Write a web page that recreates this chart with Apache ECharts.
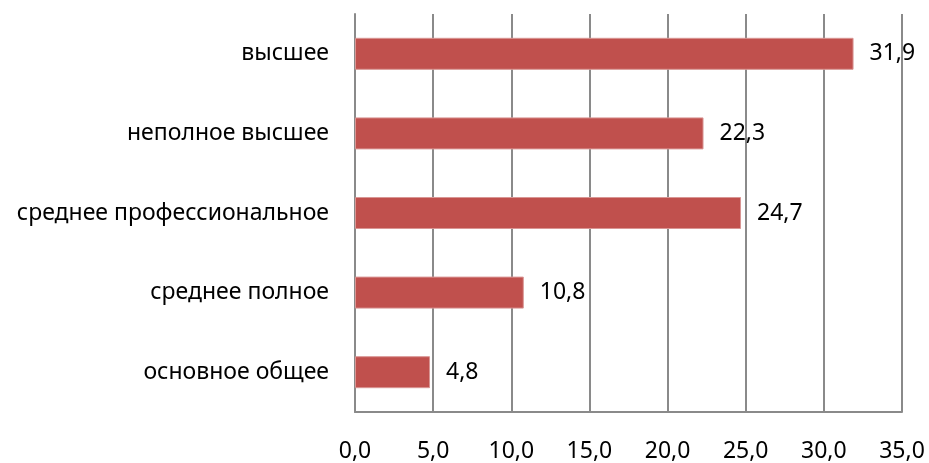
<!DOCTYPE html>
<html>
<head>
<meta charset="utf-8">
<script src="https://cdn.jsdelivr.net/npm/echarts@6/dist/echarts.min.js"></script>
<style>
html, body { margin: 0; padding: 0; background: #fff; }
#chart { width: 929px; height: 463px; }
</style>
</head>
<body>
<div id="chart"></div>
<script>
// категории снизу вверх (ось y идёт от низа)
const categories = ['основное общее', 'среднее полное', 'среднее профессиональное', 'неполное высшее', 'высшее'];
const values = [4.8, 10.8, 24.7, 22.3, 31.9];
const xMin = 0, xMax = 35, xStep = 5;

const FONT = '"Noto Sans", sans-serif';
const fmt = v => Number(v).toFixed(1).replace('.', ',');

const chart = echarts.init(document.getElementById('chart'));
const option = {
    animation: false,
    grid: { left: 355, right: 27, top: 14, bottom: 49 },
    xAxis: {
        type: 'value',
        min: xMin,
        max: xMax,
        interval: xStep,
        axisLine: { show: true, lineStyle: { color: '#8a8a8a', width: 2 } },
        axisTick: { show: false },
        splitLine: { show: true, lineStyle: { color: '#8a8a8a', width: 2 } },
        axisLabel: {
            margin: 28,
            color: '#000',
            fontFamily: FONT,
            fontSize: 23,
            formatter: fmt
        }
    },
    yAxis: {
        type: 'category',
        data: categories,
        axisLine: { show: true, lineStyle: { color: '#8a8a8a', width: 2 } },
        axisTick: { show: false },
        axisLabel: {
            margin: 26,
            color: '#000',
            fontFamily: FONT,
            fontSize: 23
        }
    },
    series: [{
        type: 'bar',
        data: values,
        barWidth: 32,
        itemStyle: { color: '#C0504D', borderColor: '#D99694', borderWidth: 1 },
        label: {
            show: true,
            position: 'right',
            distance: 16,
            color: '#000',
            fontFamily: FONT,
            fontSize: 23,
            formatter: p => fmt(p.value)
        }
    }]
};
chart.setOption(option);
</script>
</body>
</html>
